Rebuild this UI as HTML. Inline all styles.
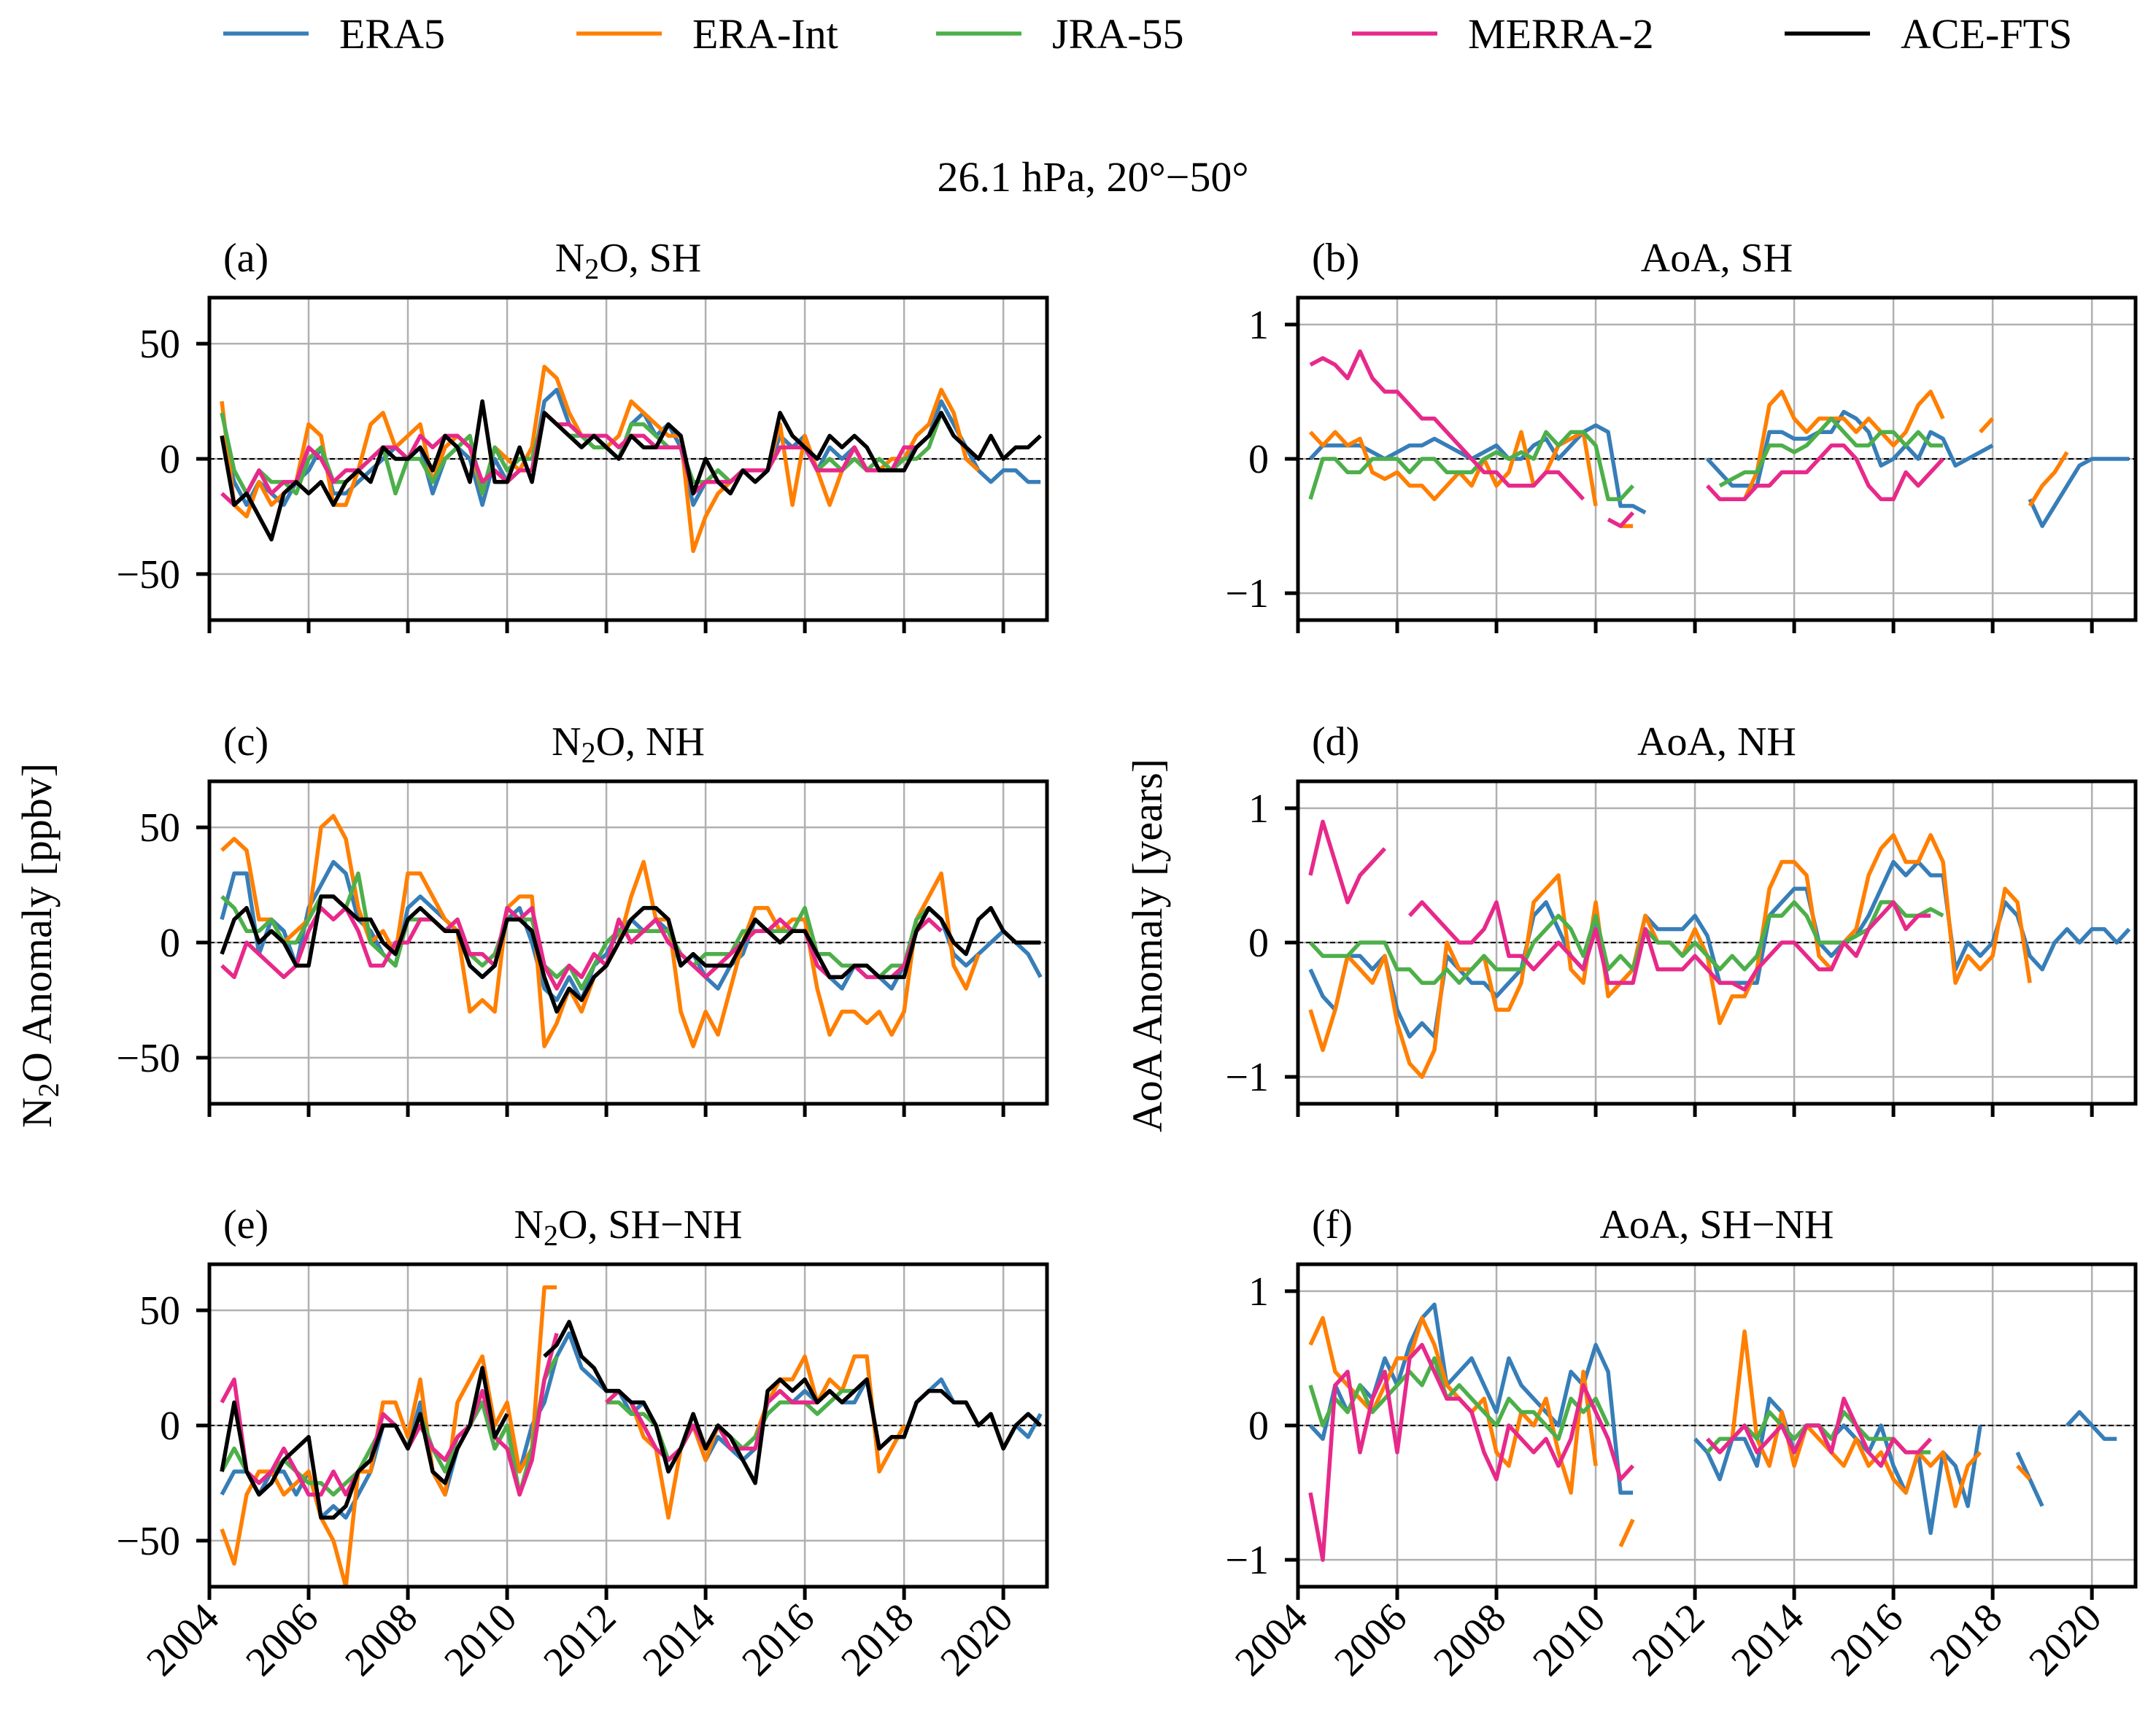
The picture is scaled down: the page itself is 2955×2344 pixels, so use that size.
<!DOCTYPE html>
<html><head><meta charset="utf-8">
<style>
html,body{margin:0;padding:0;background:#fff;}
svg{display:block;font-family:"Liberation Serif",serif;}
</style></head>
<body>
<svg id="fig" width="2955" height="2344" viewBox="0 0 2955 2344" xmlns="http://www.w3.org/2000/svg">
<rect width="2955" height="2344" fill="#fff"/>
<g id="legend"></g>
<text x="1498" y="262" font-size="58" text-anchor="middle">26.1 hPa, 20°−50°</text>
<text transform="translate(70,1296) rotate(-90)" font-size="58" text-anchor="middle">N<tspan font-size="40" dy="10">2</tspan><tspan dy="-10">O Anomaly [ppbv]</tspan></text>
<text transform="translate(1592,1296) rotate(-90)" font-size="58" text-anchor="middle">AoA Anomaly [years]</text>
<g id="panels"></g>
</svg>
<script>
// time axis: quarterly samples starting 2004.25
const startYear = 2004.25;
const stepYear = 0.25;
const xTicks = [2004,2006,2008,2010,2012,2014,2016,2018,2020];
const n2oTicks = [50,0,-50];
const aoaTicks = [1,0,-1];
const seriesNames = ["ERA5","ERA-Int","JRA-55","MERRA-2","ACE-FTS"];
const seriesColors = ["#377eb8","#ff7f00","#4daf4a","#e7298a","#000000"];
const n=null;
// Panel (a) N2O SH
const a_era5=[10,-10,-20,-10,-15,-20,-10,-5,5,-15,-15,-10,-5,0,5,0,5,-15,0,5,0,-20,0,-10,-5,-5,25,30,15,10,5,5,0,15,20,10,15,5,-20,-10,-5,-10,-5,-10,-5,10,5,10,-5,5,0,5,-5,-5,-5,0,5,10,25,15,5,-5,-10,-5,-5,-10,-10];
const a_eraint=[25,-20,-25,-10,-20,-15,-10,15,10,-20,-20,-5,15,20,5,10,15,-10,5,10,5,-15,5,0,-5,5,40,35,20,10,10,5,10,25,20,15,10,10,-40,-25,-15,-10,-5,-5,-5,15,-20,10,-5,-20,-5,5,-5,-5,0,0,10,15,30,20,0,-5,n,n,n,n,n];
const a_jra=[20,-5,-15,-5,-10,-10,-15,0,5,-10,-10,-5,0,5,-15,0,0,-10,0,5,10,-15,5,-5,0,0,20,15,10,10,5,5,0,15,15,10,5,5,-10,-10,-5,-10,-5,-5,-5,5,5,5,-5,0,-5,0,-5,0,-5,0,0,5,20,10,n,n,n,n,n,n,n];
const a_merra=[-15,-20,-15,-5,-15,-10,-10,5,0,-10,-5,-5,0,5,5,0,10,5,10,10,5,-10,-5,-10,-5,-5,20,15,15,10,10,10,5,10,10,5,5,5,-15,-10,-10,-10,-5,-5,-5,5,5,5,-5,-5,-5,5,-5,-5,-5,5,5,10,20,n,n,n,n,n,n,n,n];
const a_ace=[10,-20,-15,-25,-35,-15,-10,-15,-10,-20,-10,-5,-10,5,0,0,5,-5,10,5,-10,25,-10,-10,5,-10,20,15,10,5,10,5,0,10,5,5,15,10,-15,0,-10,-15,-5,-10,-5,20,10,5,0,10,5,10,5,-5,-5,-5,5,10,20,10,5,0,10,0,5,5,10];
// Panel (b) AoA SH
const b_era5=[0,0.1,0.1,0.1,0.1,0.05,0,0.05,0.1,0.1,0.15,0.1,0.05,0,0.05,0.1,0,0,0.1,0.15,0,0.1,0.2,0.25,0.2,-0.35,-0.35,-0.4,n,n,n,n,0,-0.1,-0.2,-0.2,-0.2,0.2,0.2,0.15,0.15,0.2,0.2,0.35,0.3,0.2,-0.05,0,0.1,0,0.2,0.15,-0.05,0,0.05,0.1,n,n,-0.3,-0.5,-0.35,-0.2,-0.05,0,0,0,0];
const b_eraint=[0.2,0.1,0.2,0.1,0.15,-0.1,-0.15,-0.1,-0.2,-0.2,-0.3,-0.2,-0.1,-0.2,0,-0.2,-0.1,0.2,-0.2,-0.1,0.1,0.15,0.2,-0.35,n,-0.5,-0.5,n,n,n,n,n,n,n,-0.3,-0.3,-0.1,0.4,0.5,0.3,0.2,0.3,0.3,0.3,0.2,0.3,0.2,0.1,0.2,0.4,0.5,0.3,n,n,0.2,0.3,n,n,-0.35,-0.2,-0.1,0.05,n,n,n,n,n];
const b_jra=[-0.3,0,0,-0.1,-0.1,0,0,0,-0.1,0,0,-0.1,-0.1,-0.1,0,0.05,0,0.05,0,0.2,0.1,0.2,0.2,0.1,-0.3,-0.3,-0.2,n,n,n,n,n,n,-0.2,-0.15,-0.1,-0.1,0.1,0.1,0.05,0.1,0.2,0.3,0.2,0.1,0.1,0.2,0.2,0.1,0.2,0.1,0.1,n,n,n,n,n,n,n,n,n,n,n,n,n,n,n];
const b_merra=[0.7,0.75,0.7,0.6,0.8,0.6,0.5,0.5,0.4,0.3,0.3,0.2,0.1,0,-0.1,-0.1,-0.2,-0.2,-0.2,-0.1,-0.1,-0.2,-0.3,n,-0.45,-0.5,-0.4,n,n,n,n,n,-0.2,-0.3,-0.3,-0.3,-0.2,-0.2,-0.1,-0.1,-0.1,0,0.1,0.1,0,-0.2,-0.3,-0.3,-0.1,-0.2,-0.1,0,n,n,n,n,n,n,n,n,n,n,n,n,n,n,n];
// Panel (c) N2O NH
const c_era5=[10,30,30,-5,10,5,-10,15,25,35,30,10,5,-5,-10,15,20,15,10,5,-10,-15,-10,10,15,0,-20,-25,-15,-25,-10,-5,5,10,5,10,5,-10,-5,-15,-20,-10,-5,10,5,5,5,5,-5,-15,-20,-10,-15,-15,-20,-10,10,15,10,-5,-10,-5,0,5,0,-5,-15];
const c_eraint=[40,45,40,10,10,0,5,10,50,55,45,15,0,5,-5,30,30,20,10,5,-30,-25,-30,15,20,20,-45,-35,-20,-30,-15,-10,0,20,35,10,10,-30,-45,-30,-40,-20,0,15,15,5,10,10,-20,-40,-30,-30,-35,-30,-40,-30,10,20,30,-10,-20,-5,n,n,n,n,n];
const c_jra=[20,15,5,5,10,0,0,10,20,20,15,30,0,-5,-10,10,10,10,5,10,-5,-10,-5,10,10,10,-10,-15,-10,-20,-10,0,5,5,5,5,5,-5,-10,-5,-5,-5,5,5,5,5,5,15,-5,-5,-10,-10,-10,-15,-10,-10,10,15,10,n,-5,n,n,n,n,n,n];
const c_merra=[-10,-15,0,-5,-10,-15,-10,5,15,10,15,5,-10,-10,0,0,10,10,5,10,-5,-5,-10,15,10,15,-10,-20,-10,-15,-5,-10,10,0,5,10,0,-5,-10,-15,-10,-5,0,5,5,10,5,5,-10,-15,-15,-10,-15,-15,-15,-10,5,10,5,n,n,n,n,n,n,n,n];
const c_ace=[-5,10,15,0,5,0,-10,-10,20,20,15,10,10,0,-5,10,15,10,5,5,-10,-15,-10,10,10,5,-15,-30,-20,-25,-15,-10,0,10,15,15,10,-10,-5,-10,-10,-10,0,10,5,0,5,5,-5,-15,-15,-10,-10,-15,-15,-15,5,15,10,0,-5,10,15,5,0,0,0];
// Panel (d) AoA NH
const d_era5=[-0.2,-0.4,-0.5,-0.1,-0.1,-0.2,-0.1,-0.5,-0.7,-0.6,-0.7,-0.1,-0.2,-0.3,-0.3,-0.4,-0.3,-0.2,0.2,0.3,0.1,-0.1,-0.2,0.2,-0.3,-0.3,-0.2,0.2,0.1,0.1,0.1,0.2,0.05,-0.3,-0.3,-0.3,-0.3,0.2,0.3,0.4,0.4,0,-0.1,0,0.05,0.2,0.4,0.6,0.5,0.6,0.5,0.5,-0.2,0,-0.1,0,0.3,0.2,-0.1,-0.2,0,0.1,0,0.1,0.1,0,0.1];
const d_eraint=[-0.5,-0.8,-0.5,-0.1,-0.2,-0.3,-0.1,-0.6,-0.9,-1.0,-0.8,0,-0.2,-0.2,-0.1,-0.5,-0.5,-0.3,0.3,0.4,0.5,-0.2,-0.3,0.3,-0.4,-0.3,-0.2,0.2,0,0,-0.1,0.1,-0.1,-0.6,-0.4,-0.4,-0.2,0.4,0.6,0.6,0.5,-0.1,-0.2,0,0.1,0.5,0.7,0.8,0.6,0.6,0.8,0.6,-0.3,-0.1,-0.2,-0.1,0.4,0.3,-0.3,n,n,n,n,n,n,n,n];
const d_jra=[0,-0.1,-0.1,-0.1,0,0,0,-0.2,-0.2,-0.3,-0.3,-0.2,-0.3,-0.2,-0.1,-0.2,-0.2,-0.2,0,0.1,0.2,0.1,-0.1,0.2,-0.2,-0.1,-0.2,0.1,0,0,-0.1,0,-0.1,-0.2,-0.1,-0.2,-0.1,0.2,0.2,0.3,0.2,0,0,0,0.05,0.1,0.3,0.3,0.2,0.2,0.25,0.2,n,n,n,n,n,n,n,n,n,n,n,n,n,n,n];
const d_merra=[0.5,0.9,0.6,0.3,0.5,0.6,0.7,n,0.2,0.3,0.2,0.1,0,0,0.1,0.3,-0.1,-0.1,-0.2,-0.1,0,-0.1,-0.2,0.1,-0.3,-0.3,-0.3,0.1,-0.2,-0.2,-0.2,-0.1,-0.2,-0.3,-0.3,-0.35,-0.2,-0.1,0,0,-0.1,-0.2,-0.2,0,-0.1,0.1,0.2,0.3,0.1,0.2,0.2,n,n,n,n,n,n,n,n,n,n,n,n,n,n,n,n];
// Panel (e) N2O SH-NH
const e_era5=[-30,-20,-20,-30,-20,-20,-30,-20,-40,-35,-40,-30,-20,0,0,-10,10,-20,-30,-10,0,10,-10,0,-20,0,10,30,40,25,20,15,15,5,10,0,-20,-10,0,-15,-5,-10,-15,-10,10,15,10,15,10,15,10,10,20,-10,-5,-5,10,15,20,10,10,0,5,-10,0,-5,5];
const e_eraint=[-45,-60,-30,-20,-20,-30,-25,-20,-40,-50,-70,-20,-20,10,10,-5,20,-20,-30,10,20,30,0,10,-20,-10,60,60,n,n,n,10,15,10,-5,-10,-40,-10,0,-15,0,-5,-10,-5,10,20,20,30,10,20,15,30,30,-20,-10,0,n,n,n,n,n,n,n,n,n,n,n];
const e_jra=[-20,-10,-20,-25,-20,-15,-20,-25,-25,-30,-25,-20,-10,0,0,-10,5,-10,-20,-5,0,10,-10,0,-30,-10,20,30,n,n,n,10,10,5,5,0,-15,-10,5,-10,0,-5,-10,-5,5,10,10,10,5,10,15,15,n,n,n,n,n,n,n,n,n,n,n,n,n,n,n];
const e_merra=[10,20,-20,-25,-20,-10,-20,-30,-30,-20,-30,-20,-15,5,0,-10,0,-10,-15,-5,0,15,-5,-10,-30,-15,20,40,n,n,n,10,15,10,0,-10,-15,-10,0,-10,0,-10,-10,-10,10,15,10,10,10,15,10,15,n,n,n,n,n,n,n,n,n,n,n,n,n,n,n];
const e_ace=[-20,10,-20,-30,-25,-15,-10,-5,-40,-40,-35,-20,-15,0,0,-10,5,-20,-25,-10,0,25,-5,5,n,n,30,35,45,30,25,15,15,10,10,0,-20,-10,5,-10,0,-5,-15,-25,15,20,15,20,10,15,10,15,20,-10,-5,-5,10,15,15,10,10,0,5,-10,0,5,0];
// Panel (f) AoA SH-NH
const f_era5=[0,-0.1,0.3,0.1,0.3,0.2,0.5,0.3,0.6,0.8,0.9,0.3,0.4,0.5,0.3,0.1,0.5,0.3,0.2,0.1,0,0.4,0.3,0.6,0.4,-0.5,-0.5,n,n,n,n,-0.1,-0.2,-0.4,-0.1,-0.1,-0.3,0.2,0.1,-0.2,0,0,-0.1,0,-0.1,-0.2,0,-0.3,-0.5,-0.2,-0.8,-0.2,-0.3,-0.6,0,n,n,-0.2,-0.4,-0.6,n,0,0.1,0,-0.1,-0.1,n];
const f_eraint=[0.6,0.8,0.4,0.3,0.2,0.1,0.3,0.5,0.5,0.8,0.6,0.3,0.2,0.1,0.2,-0.2,-0.3,0.1,0,0.2,-0.2,-0.5,0.4,-0.3,n,-0.9,-0.7,n,n,n,n,n,n,-0.2,-0.1,0.7,-0.1,-0.3,0.1,-0.3,0,-0.1,-0.2,-0.3,-0.1,-0.3,-0.2,-0.4,-0.5,-0.2,-0.3,-0.2,-0.6,-0.3,-0.2,n,n,-0.3,-0.4,n,n,n,n,n,n,n,n];
const f_jra=[0.3,0,0.2,0.1,0.3,0.1,0.2,0.3,0.4,0.3,0.5,0.2,0.3,0.2,0.1,0,0.2,0.1,0.1,0,-0.1,0.2,0.1,0.2,0,n,n,n,n,n,n,n,-0.2,-0.1,-0.1,0,-0.1,0.1,0,-0.1,0,0,-0.1,0.1,0,-0.1,-0.1,-0.1,-0.2,-0.2,-0.2,n,n,n,n,n,n,n,n,n,n,n,n,n,n,n,n];
const f_merra=[-0.5,-1.0,0.3,0.4,-0.2,0.2,0.4,-0.2,0.5,0.6,0.4,0.2,0.2,0.1,-0.2,-0.4,0,-0.1,-0.2,-0.1,-0.3,-0.1,0.3,0.1,-0.1,-0.4,-0.3,n,n,n,n,n,-0.1,-0.2,-0.1,0,-0.2,-0.1,0,-0.2,0,0,-0.2,0.2,0,-0.2,-0.3,-0.1,-0.2,-0.2,-0.1,n,n,n,n,n,n,n,n,n,n,n,n,n,n,n,n];

const NS="http://www.w3.org/2000/svg";
const svg=document.getElementById('fig');
function mk(tag,attrs,parent){const e=document.createElementNS(NS,tag);for(const k in attrs)e.setAttribute(k,attrs[k]);(parent||svg).appendChild(e);return e;}

const panels=[
 {id:'a',label:'(a)',title:['N','2','O, SH'],x0:287,y0:408,ticks:n2oTicks,ymax:70,series:[a_era5,a_eraint,a_jra,a_merra,a_ace],xl:false},
 {id:'b',label:'(b)',title:['AoA, SH'],x0:1779,y0:408,ticks:aoaTicks,ymax:1.2,series:[b_era5,b_eraint,b_jra,b_merra],xl:false},
 {id:'c',label:'(c)',title:['N','2','O, NH'],x0:287,y0:1071,ticks:n2oTicks,ymax:70,series:[c_era5,c_eraint,c_jra,c_merra,c_ace],xl:false},
 {id:'d',label:'(d)',title:['AoA, NH'],x0:1779,y0:1071,ticks:aoaTicks,ymax:1.2,series:[d_era5,d_eraint,d_jra,d_merra],xl:false},
 {id:'e',label:'(e)',title:['N','2','O, SH−NH'],x0:287,y0:1733,ticks:n2oTicks,ymax:70,series:[e_era5,e_eraint,e_jra,e_merra,e_ace],xl:true},
 {id:'f',label:'(f)',title:['AoA, SH−NH'],x0:1779,y0:1733,ticks:aoaTicks,ymax:1.2,series:[f_era5,f_eraint,f_jra,f_merra],xl:true},
];
const W=1148,H=442,xmin=2004,xmax=2020.88;
const pg=document.getElementById('panels');
panels.forEach(p=>{
  const g=mk('g',{},pg);
  
  
  const X=v=>p.x0+(v-xmin)/(xmax-xmin)*W;
  const Y=v=>p.y0+H/2-v/p.ymax*(H/2);
  const cid='clip-'+p.id;
  const cp=mk('clipPath',{id:cid},g);mk('rect',{x:p.x0,y:p.y0,width:W,height:H},cp);
  xTicks.forEach(t=>{const l=mk('line',{x1:X(t),x2:X(t),y1:p.y0,y2:p.y0+H,stroke:'#b0b0b0','stroke-width':2.5},g);});
  p.ticks.forEach(t=>{const l=mk('line',{x1:p.x0,x2:p.x0+W,y1:Y(t),y2:Y(t),stroke:'#b0b0b0','stroke-width':2.5},g);});
  const zl=mk('line',{x1:p.x0,x2:p.x0+W,y1:Y(0),y2:Y(0),stroke:'#000','stroke-width':2,'stroke-dasharray':'7,4'},g);
  
  const sg=mk('g',{'clip-path':'url(#'+cid+')'},g);
  p.series.forEach((arr,si)=>{
    let d='',pen=false;
    arr.forEach((v,i)=>{
      if(v===null){pen=false;return;}
      const px=X(startYear+stepYear*i),py=Y(v);
      d+=(pen?'L':'M')+px.toFixed(1)+' '+py.toFixed(1);pen=true;
    });
    const path=mk('path',{d:d,fill:'none',stroke:seriesColors[si],'stroke-width':5.5,'stroke-linejoin':'round'},sg);
    
    
  });
  const fr=mk('rect',{x:p.x0,y:p.y0,width:W,height:H,fill:'none',stroke:'#000','stroke-width':5},g);
  
  xTicks.forEach(t=>{
    const l=mk('line',{x1:X(t),x2:X(t),y1:p.y0+H,y2:p.y0+H+18,stroke:'#000','stroke-width':5},g);
    
    if(p.xl){
      const tx=mk('text',{transform:'translate('+(X(t)+16)+','+(p.y0+H+46)+') rotate(-45)','text-anchor':'end','font-size':56},g);
      tx.textContent=t;
      
    }
  });
  p.ticks.forEach(t=>{
    const l=mk('line',{x1:p.x0-18,x2:p.x0,y1:Y(t),y2:Y(t),stroke:'#000','stroke-width':5},g);
    
    const tx=mk('text',{x:p.x0-40,y:Y(t)+19,'text-anchor':'end','font-size':56},g);
    tx.textContent=(t<0?'−'+Math.abs(t):String(t));
    
  });
  const lb=mk('text',{x:p.x0+19,y:p.y0-36,'font-size':56},g);lb.textContent=p.label;
  
  const tt=mk('text',{x:p.x0+W/2,y:p.y0-36,'font-size':56,'text-anchor':'middle'},g);
  if(p.title.length===1){tt.textContent=p.title[0];}
  else{tt.appendChild(document.createTextNode(p.title[0]));const s=mk('tspan',{'font-size':40,dy:10},tt);s.textContent=p.title[1];const s2=mk('tspan',{dy:-10},tt);s2.textContent=p.title[2];}
  
});
const lg=document.getElementById('legend');
const legX=[306,790,1283,1853,2446];
seriesNames.forEach((nm,i)=>{
  const e=mk('g',{},lg);
  
  
  mk('line',{x1:legX[i],x2:legX[i]+117,y1:46,y2:46,stroke:seriesColors[i],'stroke-width':5.5},e);
  const t=mk('text',{x:legX[i]+159,y:66,'font-size':58},e);t.textContent=nm;
});
</script>
</body></html>
